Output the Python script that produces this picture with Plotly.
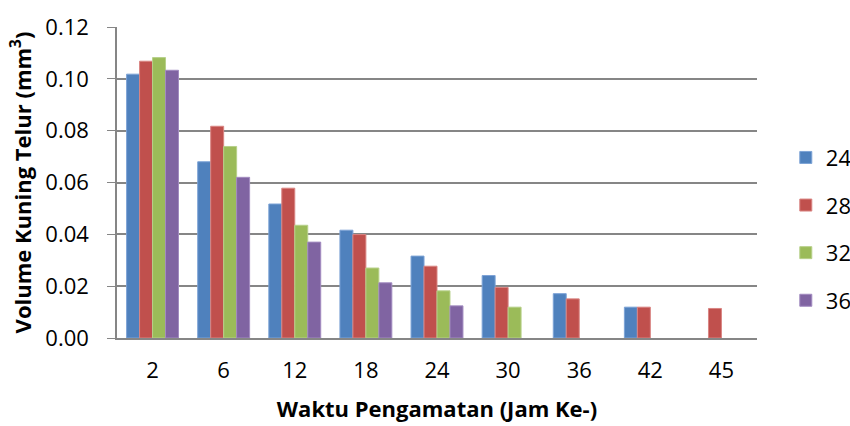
import plotly.graph_objects as go

categories = ["2", "6", "12", "18", "24", "30", "36", "42", "45"]
series_names = ["24", "28", "32", "36"]
s24 = [0.1018, 0.0680, 0.0517, 0.0416, 0.0316, 0.0241, 0.0171, 0.0119, None]
s28 = [0.1068, 0.0817, 0.0578, 0.0399, 0.0277, 0.0195, 0.0151, 0.0119, 0.0114]
s32 = [0.1082, 0.0739, 0.0435, 0.0270, 0.0182, 0.0119, None, None, None]
s36 = [0.1033, 0.0620, 0.0370, 0.0213, 0.0124, None, None, None, None]
colors = ["#4F81BD", "#C0504D", "#9BBB59", "#8064A2"]
borders = ["#7DA3D6", "#D98583", "#B7D08A", "#A28BC0"]
y_ticks = [0.0, 0.02, 0.04, 0.06, 0.08, 0.10, 0.12]

FONT = "Open Sans"
fig = go.Figure()
for name, vals, c, b in zip(series_names, [s24, s28, s32, s36], colors, borders):
    fig.add_trace(go.Bar(x=categories, y=vals, name=name, legendgroup=name,
                         marker=dict(color=c, line=dict(color=b, width=1))))

fig.update_layout(
    width=850, height=426,
    margin=dict(l=117, r=93, t=27, b=88, autoexpand=False),
    paper_bgcolor="white", plot_bgcolor="white",
    barmode="group", bargap=0.27, bargroupgap=0,
    font=dict(family=FONT, size=22, color="black"),
    legend=dict(x=1.045, xanchor="left", y=0.35, yanchor="middle",
                font=dict(size=22), tracegroupgap=16, itemwidth=30),
    showlegend=True,
)
fig.update_xaxes(type="category", showline=True, linecolor="#868686", linewidth=1.5,
                 ticks="", tickfont=dict(size=22), ticklabelstandoff=12,
                 title=dict(text="<b>Waktu Pengamatan (Jam Ke-)</b>", font=dict(size=22), standoff=18))
fig.update_yaxes(range=[0, 0.12], tickvals=y_ticks, tickformat=".2f",
                 showgrid=True, gridcolor="#868686", gridwidth=1.5,
                 showline=True, linecolor="#868686", linewidth=1.5,
                 ticks="outside", ticklen=8, tickcolor="#868686",
                 tickfont=dict(size=22), ticklabelstandoff=14,
                 title=dict(text="<b>Volume Kuning Telur (mm<sup>3</sup>)</b>", font=dict(size=22), standoff=8))
fig.write_html("out.html", config={"displayModeBar": False},
               post_script="document.body.style.margin='0';")
